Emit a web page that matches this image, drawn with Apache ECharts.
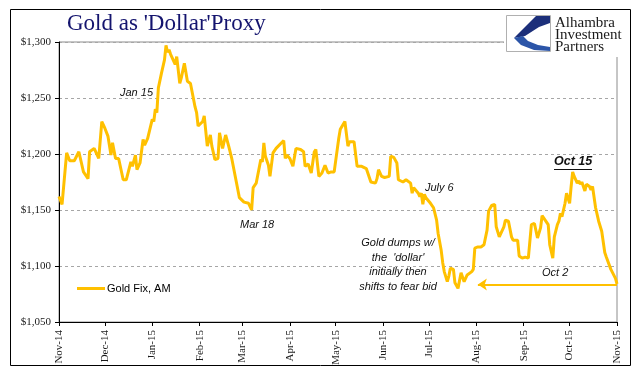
<!DOCTYPE html>
<html><head><meta charset="utf-8">
<script src="https://cdn.jsdelivr.net/npm/echarts@6/dist/echarts.min.js"></script>
<style>html,body{margin:0;padding:0;background:#fff}#c{width:641px;height:381px}</style>
</head><body><div id="c"></div>
<script>
const dates = [
'2014-11-01','2014-11-03','2014-11-06','2014-11-08','2014-11-11','2014-11-14','2014-11-15','2014-11-17','2014-11-20','2014-11-21',
'2014-11-24','2014-11-27','2014-11-29','2014-12-01','2014-12-03','2014-12-05','2014-12-06','2014-12-08','2014-12-10','2014-12-13',
'2014-12-15','2014-12-18','2014-12-19','2014-12-21','2014-12-22','2014-12-24','2014-12-26','2014-12-27','2014-12-29','2015-01-01',
'2015-01-02','2015-01-03','2015-01-04','2015-01-05','2015-01-07','2015-01-09','2015-01-10','2015-01-11','2015-01-12','2015-01-13',
'2015-01-16','2015-01-17','2015-01-19','2015-01-20','2015-01-22','2015-01-24','2015-01-26','2015-01-29','2015-01-30','2015-01-31',
'2015-02-03','2015-02-04','2015-02-06','2015-02-08','2015-02-09','2015-02-11','2015-02-13','2015-02-14','2015-02-16','2015-02-18',
'2015-02-20','2015-02-22','2015-02-25','2015-02-27','2015-02-28','2015-03-02','2015-03-05','2015-03-07','2015-03-08','2015-03-10',
'2015-03-11','2015-03-13','2015-03-14','2015-03-15','2015-03-16','2015-03-18','2015-03-19','2015-03-20','2015-03-21','2015-03-23',
'2015-03-28','2015-03-29','2015-03-30','2015-04-01','2015-04-03','2015-04-05','2015-04-08','2015-04-10','2015-04-11','2015-04-13',
'2015-04-15','2015-04-17','2015-04-18','2015-04-20','2015-04-22','2015-04-24','2015-04-26','2015-04-28','2015-04-30','2015-05-03',
'2015-05-04','2015-05-07','2015-05-09','2015-05-10','2015-05-13','2015-05-15','2015-05-18','2015-05-21','2015-05-22','2015-05-24',
'2015-05-27','2015-05-28','2015-05-29','2015-05-31','2015-06-02','2015-06-05','2015-06-06','2015-06-08','2015-06-10','2015-06-11',
'2015-06-14','2015-06-16','2015-06-19','2015-06-20','2015-06-21','2015-06-24','2015-06-25','2015-06-26','2015-06-27','2015-06-28',
'2015-06-29','2015-07-02','2015-07-03','2015-07-04','2015-07-06','2015-07-07','2015-07-09','2015-07-10','2015-07-11','2015-07-13',
'2015-07-14','2015-07-15','2015-07-17','2015-07-18','2015-07-20','2015-07-22','2015-07-24','2015-07-26','2015-07-29','2015-07-30',
'2015-07-31','2015-08-02','2015-08-04','2015-08-06','2015-08-08','2015-08-09','2015-08-11','2015-08-13','2015-08-14','2015-08-16',
'2015-08-19','2015-08-20','2015-08-22','2015-08-24','2015-08-25','2015-08-28','2015-08-29','2015-08-31','2015-09-02','2015-09-04',
'2015-09-06','2015-09-08','2015-09-10','2015-09-12','2015-09-13','2015-09-15','2015-09-17','2015-09-18','2015-09-20','2015-09-21',
'2015-09-23','2015-09-24','2015-09-25','2015-09-26','2015-09-28','2015-09-29','2015-10-01','2015-10-02','2015-10-03','2015-10-04',
'2015-10-06','2015-10-07','2015-10-08','2015-10-09','2015-10-11','2015-10-12','2015-10-14','2015-10-15','2015-10-16','2015-10-18',
'2015-10-20','2015-10-22','2015-10-24','2015-10-25','2015-10-28','2015-10-31','2015-11-01'];
const prices = [
1162,1155,1201,1194,1194,1202,1196,1184,1178,1202,
1205,1196,1229,1223,1216,1199,1210,1196,1196,1177,
1177,1193,1189,1199,1186,1192,1213,1208,1214,1231,
1229,1240,1237,1259,1272,1284,1297,1291,1293,1289,
1280,1287,1263,1268,1281,1265,1263,1242,1237,1225,
1229,1234,1207,1217,1207,1195,1196,1219,1205,1217,
1207,1196,1175,1161,1160,1157,1156,1150,1170,1174,
1181,1195,1193,1210,1198,1190,1180,1181,1201,1205,
1212,1196,1199,1196,1189,1205,1204,1202,1189,1191,
1183,1202,1204,1180,1183,1190,1183,1184,1184,1214,
1222,1229,1207,1211,1211,1189,1189,1187,1183,1175,
1174,1178,1186,1180,1179,1180,1198,1197,1192,1177,
1175,1177,1174,1165,1170,1165,1162,1165,1155,1164,
1161,1156,1155,1152,1141,1129,1114,1103,1095,1086,
1091,1098,1097,1085,1080,1094,1086,1092,1095,1097,
1116,1117,1117,1119,1132,1149,1154,1155,1135,1126,
1135,1141,1140,1126,1123,1123,1109,1107,1108,1107,
1137,1138,1125,1134,1145,1141,1137,1119,1107,1126,
1137,1140,1147,1144,1156,1165,1156,1171,1184,1180,
1174,1176,1173,1175,1167,1173,1171,1168,1171,1152,
1140,1131,1112,1108,1097,1089,1084];
const monthTicks = ['2014-11-01','2014-12-01','2015-01-01','2015-02-01','2015-03-01','2015-04-01',
  '2015-05-01','2015-06-01','2015-07-01','2015-08-01','2015-09-01','2015-10-01','2015-11-01'];
const monthNames = ['Jan','Feb','Mar','Apr','May','Jun','Jul','Aug','Sep','Oct','Nov','Dec'];
const yMin = 1050, yMax = 1300, yStep = 50;
const seriesName = 'Gold Fix, AM';
const arrowFrom = '2015-11-01', arrowTo = '2015-08-02', arrowLevel = 1083.5;

function ts(s){ const p = s.split('-'); return new Date(+p[0], +p[1]-1, +p[2]).getTime(); }
const chart = echarts.init(document.getElementById('c'), null, {renderer:'canvas'});
const tickVals = monthTicks.map(ts);
const ann = (text, x, y, extra) => ({type:'text', z:100, style:Object.assign({
  text, x, y, font:'italic 11px "Liberation Sans", Arial, sans-serif', fill:'#111',
  textAlign:'left', textVerticalAlign:'middle'}, extra||{})});

const option = {
  animation:false,
  backgroundColor:'#fff',
  grid:{left:59, top:42, width:558, height:280, show:true, borderColor:'#8c8c8c', borderWidth:1, backgroundColor:'transparent'},
  xAxis:{type:'value', min:tickVals[0], max:tickVals[tickVals.length-1],
    axisLine:{show:true, onZero:false, lineStyle:{color:'#000', width:1}},
    axisTick:{show:true, inside:false, length:4, lineStyle:{color:'#000'}, customValues:tickVals},
    axisLabel:{customValues:tickVals, rotate:90, margin:8, fontFamily:'"Liberation Serif", serif', fontSize:11, color:'#1a1a1a',
      formatter: v => { const d = new Date(v); return monthNames[d.getMonth()] + '-' + String(d.getFullYear()%100).padStart(2,'0'); }},
    splitLine:{show:false}},
  yAxis:{type:'value', min:yMin, max:yMax, interval:yStep,
    axisLine:{show:true, lineStyle:{color:'#000', width:1}},
    axisTick:{show:true, inside:false, length:4, lineStyle:{color:'#000'}},
    axisLabel:{margin:8, fontFamily:'"Liberation Serif", serif', fontSize:11, color:'#1a1a1a',
      formatter: v => '$' + v.toLocaleString('en-US')},
    splitLine:{show:true, lineStyle:{color:'#a6a6a6', type:[3,3], width:1}}},
  legend:{left:77, top:283, padding:0, itemWidth:28, itemHeight:3, icon:'rect', itemGap:10,
    textStyle:{fontFamily:'"Liberation Sans", Arial, sans-serif', fontSize:11, color:'#000', padding:[0,0,0,-3]}, data:[seriesName]},
  series:[{
    name:seriesName, type:'line', showSymbol:false, symbol:'none',
    data: dates.map((d,i)=>[ts(d), prices[i]]),
    lineStyle:{color:'#FFC000', width:3}, itemStyle:{color:'#FFC000'},
    markLine:{silent:true, symbol:['none','arrow'], symbolSize:[9,9], label:{show:false},
      lineStyle:{color:'#FFC000', width:2, type:'solid'},
      data:[[{coord:[ts(arrowFrom), arrowLevel]},{coord:[ts(arrowTo), arrowLevel]}]]}
  }],
  graphic:[
    {type:'rect', z:100, shape:{x:10.5, y:9.5, width:620, height:356}, style:{fill:'none', stroke:'#000', lineWidth:1}},
    {type:'rect', z:100, shape:{x:504, y:12, width:125, height:45}, style:{fill:'#fff'}},
    {type:'rect', z:101, shape:{x:506.5, y:15.5, width:44, height:36}, style:{fill:'#fff', stroke:'#b0b0b0', lineWidth:1}},
    {type:'polygon', z:102, shape:{points:[[550,16],[536,16],[514,38],[525,36],[539,27],[550,23]]}, style:{fill:'#1c2f7a'}},
    {type:'polygon', z:102, shape:{points:[[514,38],[521,45],[534,50],[550,51],[550,47],[538,45],[528,41],[523,36]]}, style:{fill:'#2c55a8'}},
    {type:'text', z:102, style:{text:'Alhambra', x:555, y:23, font:'15px "Liberation Serif", serif', fill:'#1a1a1a', textVerticalAlign:'middle'}},
    {type:'text', z:102, style:{text:'Investment', x:555, y:35, font:'15px "Liberation Serif", serif', fill:'#1a1a1a', textVerticalAlign:'middle'}},
    {type:'text', z:102, style:{text:'Partners', x:555, y:47, font:'15px "Liberation Serif", serif', fill:'#1a1a1a', textVerticalAlign:'middle'}},
    {type:'text', z:100, style:{text:"Gold as 'Dollar'Proxy", x:67, y:24, font:'23px "Liberation Serif", serif', fill:'#14146e', textVerticalAlign:'middle'}},
    ann('Jan 15', 120, 93),
    ann('Mar 18', 240, 225),
    ann('July 6', 425, 188),
    ann("Gold dumps w/\nthe  'dollar'\ninitially then\nshifts to fear bid", 398, 265, {textAlign:'center', lineHeight:14.5}),
    ann('Oct 15', 554, 162, {font:'italic bold 12.5px "Liberation Sans", Arial, sans-serif'}),
    {type:'line', z:100, shape:{x1:554, y1:169.5, x2:592, y2:169.5}, style:{stroke:'#111', lineWidth:1}},
    ann('Oct 2', 542, 273)
  ]
};
chart.setOption(option);
</script></body></html>
